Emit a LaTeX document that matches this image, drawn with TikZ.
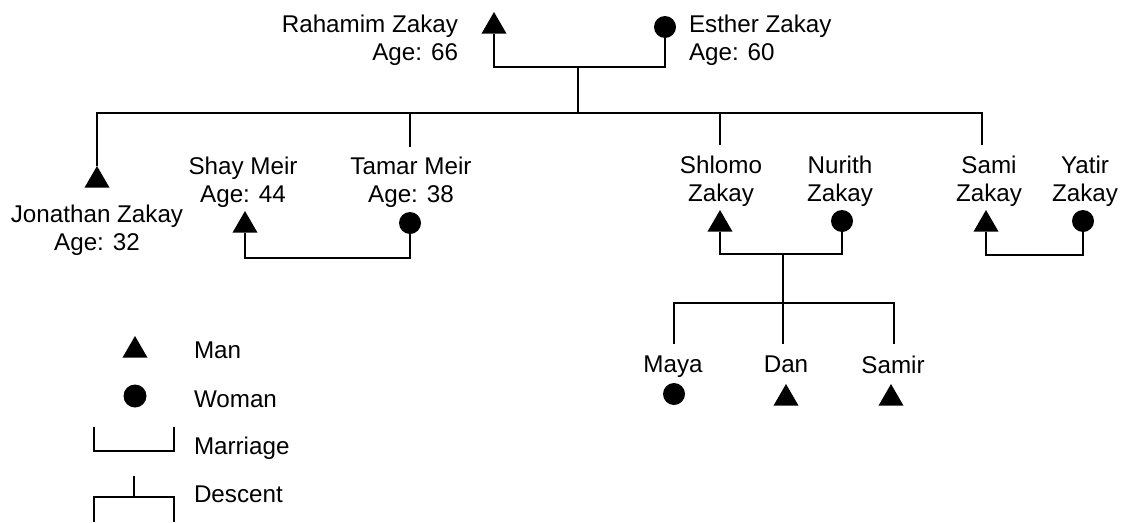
\documentclass[tikz,border=0pt]{standalone}
\usepackage{fontspec}
\setmainfont{Liberation Sans}
\usetikzlibrary{shapes.geometric}
\begin{document}
\begin{tikzpicture}[x=1pt,y=-1pt,
  man/.style={regular polygon, regular polygon sides=3, minimum size=28.9pt,
    inner sep=0pt, outer sep=0pt, fill=black},
  woman/.style={circle, minimum size=22pt, inner sep=0pt, outer sep=0pt, fill=black},
  nm/.style={inner sep=0pt, outer sep=0pt, align=center,
    font=\fontsize{24.2}{28}\selectfont},
  link/.style={line width=1.8pt}]
\useasboundingbox (0,0) rectangle (1126,522);

% grandparents
\node[man, anchor=north] (rah) at (494,12) {};
\node[woman] (est) at (665,27) {};
\node[nm, align=right, anchor=north east] (rahT) at (458,15) {Rahamim Zakay\\Age: 66};
\node[nm, align=left, anchor=north west] (estT) at (689,15) {Esther Zakay\\Age: 60};
\coordinate (m0) at (578,67);
\coordinate (d0) at (578,113);
\draw[link] (rah.south) |- (m0) -| (est.south);
\draw[link] (m0) -- (d0);

% children of the grandparents
\node[man, anchor=north] (jon) at (97,166) {};
\node[nm, anchor=north] (jonT) at (97,205) {Jonathan Zakay\\Age: 32};

\node[nm, anchor=north] (shayT) at (243,157) {Shay Meir\\Age: 44};
\node[man, anchor=north] (shay) at (245,211) {};
\node[nm, anchor=north] (tamT) at (411,157) {Tamar Meir\\Age: 38};
\node[woman] (tam) at (410,223) {};
\coordinate (m1) at (327,258);
\draw[link] (shay.south) |- (m1) -| (tam.south);

\node[nm, anchor=north] (shlT) at (721,156) {Shlomo\\Zakay};
\node[man, anchor=north] (shl) at (720,210) {};
\node[nm, anchor=north] (nurT) at (840,156) {Nurith\\Zakay};
\node[woman] (nur) at (842,221) {};
\coordinate (m2) at (783,254);
\draw[link] (shl.south) |- (m2) -| (nur.south);

\node[nm, anchor=north] (samT) at (989,156) {Sami\\Zakay};
\node[man, anchor=north] (sam) at (986,210) {};
\node[nm, anchor=north] (yatT) at (1085,156) {Yatir\\Zakay};
\node[woman] (yat) at (1083,221) {};
\coordinate (m3) at (1034,255);
\draw[link] (sam.south) |- (m3) -| (yat.south);

% descent bar of the second generation
\coordinate (bR) at (982,113);
\coordinate (tamS) at (410,147);
\coordinate (shlS) at (720,145);
\coordinate (samS) at (982,145);
\draw[link] (jon.north) |- (bR) -- (samS);
\draw[link] (tamS) -- (tamS |- bR);
\draw[link] (shlS) -- (shlS |- bR);

% grandchildren
\coordinate (d2) at (783,303);
\draw[link] (m2) -- (d2);
\node[nm, anchor=north] (mayT) at (673,356) {Maya};
\node[woman] (may) at (674,394) {};
\node[nm, anchor=north] (danT) at (786,356) {Dan};
\node[man, anchor=north] (dan) at (786,384) {};
\node[nm, anchor=north] (samirT) at (893,356) {Samir};
\node[man, anchor=north] (samir) at (891,384) {};
\coordinate (cM) at (674,344);
\coordinate (cD) at (783,344);
\coordinate (cS) at (894,344);
\draw[link] (cM) -- (cM |- d2) -- (cS |- d2) -- (cS);
\draw[link] (d2) -- (cD);

% legend
\node[man, anchor=north] (lgMan) at (135,336) {};
\node[woman, minimum size=23pt] (lgWoman) at (135,396) {};
\node[nm, anchor=base west] (lgManT) at (194,358) {Man};
\node[nm, anchor=base west] (lgWomanT) at (194,407) {Woman};
\node[nm, anchor=base west] (lgMarT) at (194,454) {Marriage};
\node[nm, anchor=base west] (lgDesT) at (194,502) {Descent};
\coordinate (lmL) at (94,427);
\coordinate (lmB) at (134,451);
\coordinate (lmR) at (174,427);
\draw[link] (lmL) |- (lmB) -| (lmR);
\coordinate (ldT) at (134,476);
\coordinate (ldM) at (134,497);
\coordinate (ldL) at (94,522);
\coordinate (ldR) at (174,522);
\draw[link] (ldL) |- (ldM) -| (ldR);
\draw[link] (ldT) -- (ldM);
\end{tikzpicture}
\end{document}
